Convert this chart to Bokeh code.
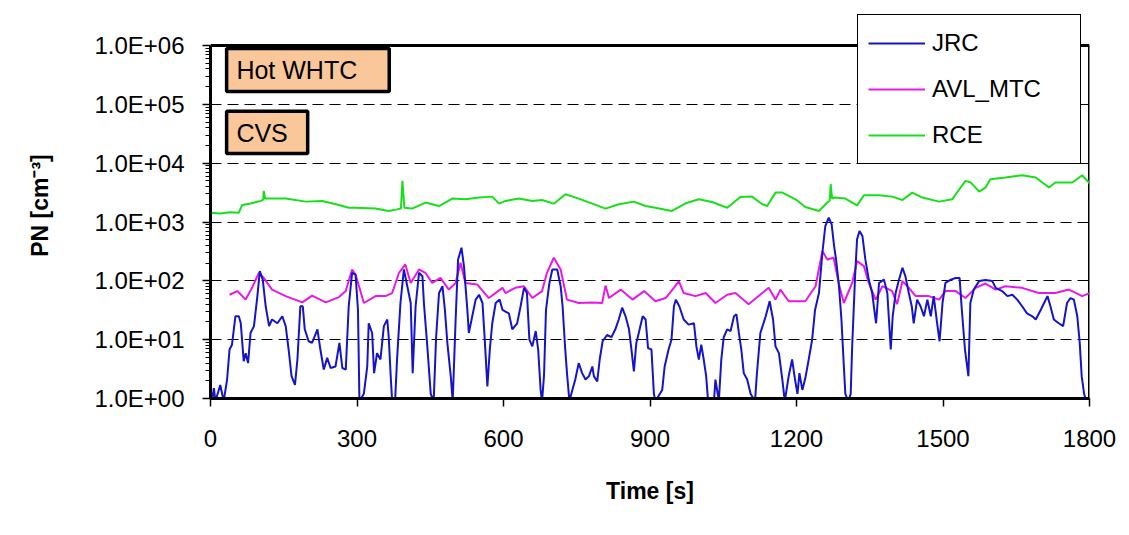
from bokeh.plotting import figure
from bokeh.models import (Range1d, FixedTicker, CustomJSTickFormatter, Legend,
                          LegendItem, BoxAnnotation, Label)
from bokeh.embed import file_html
from bokeh.resources import INLINE

# ---------------- data ----------------
x_ticks = [0, 300, 600, 900, 1200, 1500, 1800]
y_ticks = [1, 10, 100, 1000, 10000, 100000, 1000000]
series_names = ["JRC", "AVL_MTC", "RCE"]

rce_t = [0, 20, 40, 58, 65, 80, 103, 108, 109, 112, 154, 195, 229, 263, 283, 297, 338, 365,
         382, 390, 393, 397, 413, 440, 468, 495, 522, 550, 577, 591, 604, 631, 659, 679, 703,
         727, 754, 782, 809, 836, 867, 891, 911, 945, 973, 1000, 1027, 1058, 1085, 1109, 1130,
         1140, 1157, 1171, 1198, 1218, 1246, 1263, 1268, 1270, 1273, 1277, 1300, 1324, 1338,
         1369, 1396, 1417, 1437, 1458, 1492, 1519, 1526, 1546, 1557, 1574, 1587, 1597, 1628,
         1662, 1690, 1717, 1730, 1765, 1785, 1800]
rce_v = [1440, 1400, 1460, 1440, 1950, 2050, 2280, 2400, 3380, 2500, 2500, 2220, 2280, 1950,
         1750, 1750, 1690, 1540, 1640, 1700, 5000, 1750, 1690, 2140, 1870, 2500, 2430, 2600,
         2700, 2050, 2280, 2500, 2280, 2370, 2050, 2960, 2500, 2050, 1690, 2000, 2220, 1870,
         1750, 1540, 2080, 2430, 2190, 1750, 2670, 2700, 2000, 1870, 3160, 3160, 2430, 1800,
         1540, 2140, 2300, 4390, 2500, 2600, 2500, 1920, 2850, 2850, 2700, 2370, 3160, 2600,
         2220, 2430, 2960, 5000, 4680, 3290, 3850, 5340, 5700, 6240, 5700, 3850, 4680, 4680,
         6240, 4560]

avl_t = [39, 55, 72, 85, 99, 109, 126, 154, 188, 208, 236, 263, 277, 290, 297, 307, 314, 338,
         358, 372, 386, 399, 410, 427, 440, 454, 471, 488, 502, 512, 522, 546, 570, 598, 604,
         624, 642, 659, 679, 689, 703, 717, 730, 754, 782, 802, 809, 816, 840, 864, 888, 911,
         932, 949, 959, 969, 993, 1014, 1034, 1058, 1075, 1102, 1130, 1143, 1157, 1167, 1184,
         1218, 1239, 1253, 1263, 1276, 1287, 1297, 1314, 1324, 1338, 1348, 1362, 1376, 1396,
         1406, 1417, 1430, 1444, 1471, 1492, 1505, 1526, 1546, 1567, 1587, 1608, 1628, 1662,
         1696, 1730, 1758, 1785, 1800]
avl_v = [58, 67, 48, 76, 137, 112, 71, 55, 43, 56, 43, 53, 67, 156, 128, 67, 42, 55, 55, 62,
         137, 190, 92, 156, 137, 92, 112, 71, 92, 203, 92, 87, 51, 76, 62, 76, 81, 51, 67, 137,
         247, 156, 48, 42, 43, 42, 83, 51, 71, 48, 67, 45, 51, 76, 99, 62, 55, 62, 42, 58, 62,
         40, 62, 76, 48, 71, 45, 45, 81, 320, 231, 247, 87, 42, 92, 216, 178, 92, 48, 81, 67,
         40, 99, 76, 55, 55, 48, 67, 67, 51, 76, 90, 71, 81, 76, 62, 62, 71, 55, 62]

jrc_t = [0, 3, 7, 10, 20, 27, 34, 39, 44, 51, 58, 62, 68, 72, 77, 82, 89, 96, 101, 107, 113,
         120, 126, 137, 147, 154, 160, 166, 173, 178, 184, 189, 193, 201, 208, 219, 225, 232,
         239, 246, 256, 264, 270, 277, 283, 290, 297, 302, 305, 314, 321, 324, 331, 335, 341,
         348, 355, 362, 365, 369, 372, 378, 382, 389, 396, 403, 410, 414, 420, 427, 434, 437,
         444, 451, 457, 462, 468, 475, 480, 485, 492, 496, 502, 507, 514, 519, 526, 529, 536,
         543, 550, 557, 562, 567, 572, 577, 584, 592, 598, 604, 611, 618, 628, 635, 642, 648,
         653, 659, 666, 671, 676, 679, 683, 687, 694, 700, 710, 717, 721, 726, 730, 735, 741,
         747, 754, 761, 768, 775, 782, 785, 792, 797, 803, 812, 821, 829, 836, 843, 850, 857,
         862, 867, 872, 877, 885, 891, 896, 903, 908, 911, 925, 930, 938, 944, 949, 953, 960,
         969, 979, 990, 995, 1000, 1005, 1010, 1015, 1019, 1031, 1034, 1041, 1046, 1051, 1058,
         1065, 1072, 1077, 1082, 1087, 1092, 1099, 1106, 1115, 1119, 1126, 1137, 1145, 1152,
         1157, 1164, 1171, 1176, 1184, 1191, 1197, 1202, 1206, 1212, 1218, 1225, 1232, 1238,
         1246, 1253, 1259, 1266, 1272, 1277, 1281, 1287, 1292, 1297, 1300, 1306, 1311, 1314,
         1320, 1324, 1329, 1335, 1341, 1348, 1355, 1361, 1363, 1369, 1379, 1386, 1393, 1397,
         1403, 1410, 1417, 1423, 1430, 1436, 1440, 1447, 1454, 1461, 1468, 1475, 1481, 1488,
         1493, 1499, 1505, 1516, 1526, 1534, 1538, 1545, 1552, 1556, 1563, 1574, 1587, 1601,
         1608, 1621, 1632, 1642, 1652, 1662, 1672, 1683, 1690, 1700, 1707, 1714, 1720, 1727,
         1737, 1746, 1754, 1761, 1768, 1775, 1780, 1784, 1789, 1793, 1800]
jrc_v = [1.5, 0.9, 1.5, 0.9, 1.7, 0.9, 2.1, 6.8, 8.2, 25, 25, 19, 4.3, 5.9, 4.0, 13, 17, 55,
         146, 105, 37, 17, 22, 19, 25, 17, 6.8, 2.4, 1.7, 4.6, 37, 37, 15, 9.4, 8.8, 15, 6.8,
         3.1, 4.9, 3.3, 3.5, 8.8, 3.3, 3.1, 37, 137, 128, 32, 0.9, 1.2, 3.5, 19, 13, 2.7, 5.9,
         4.6, 17, 22, 11, 2.4, 0.9, 0.9, 4.6, 42, 156, 81, 42, 2.7, 37, 137, 120, 42, 7.7, 1.2,
         0.9, 11, 62, 81, 32, 8.8, 2.4, 0.9, 22, 231, 365, 178, 32, 13, 25, 48, 58, 42, 8.8,
         1.6, 6.8, 19, 42, 48, 32, 30, 28, 15, 19, 37, 76, 62, 10, 7.7, 14, 6.8, 1.4, 0.9, 2.5,
         32, 92, 156, 156, 81, 37, 7.7, 2.7, 0.9, 1.4, 2.1, 4.0, 2.7, 2.1, 2.4, 3.5, 2.4, 1.95,
         4.6, 9.4, 12, 11, 15, 22, 35, 25, 15, 6.8, 2.9, 8.8, 13, 25, 22, 7.2, 6.8, 1.2, 0.9,
         1.4, 3.5, 6.8, 10, 37, 48, 37, 22, 18, 19, 7.7, 4.6, 8.2, 4.6, 2.4, 0.9, 0.9, 2.1,
         0.9, 4.6, 11, 15, 14, 25, 27, 13, 6.8, 2.7, 2.1, 1.2, 0.9, 2.7, 13, 25, 45, 22, 7.7,
         5.9, 2.1, 0.9, 2.4, 4.6, 2.1, 1.2, 2.7, 1.4, 2.2, 4.6, 10, 32, 62, 300, 855, 1190, 910,
         390, 231, 81, 22, 3.5, 1.2, 0.9, 1.2, 7.7, 120, 507, 703, 577, 231, 105, 62, 25, 19,
         92, 105, 62, 6.8, 25, 62, 105, 167, 120, 62, 37, 19, 48, 37, 25, 48, 25, 55, 19, 9.4,
         42, 92, 105, 112, 112, 37, 6.8, 2.4, 42, 71, 99, 103, 99, 76, 67, 55, 58, 48, 37, 28,
         25, 22, 32, 42, 55, 37, 22, 19, 17, 42, 51, 48, 25, 8.8, 2.4, 1.2, 0.9, 0.9]

FONT = "Liberation Sans"
Y_MIN, Y_MAX = 1, 1e6          # axis extent
Y_TOP_ROOM = 10 ** 6.561        # headroom above the axis so the legend can poke out

p = figure(frame_width=879, frame_height=386, y_axis_type="log",
           x_range=Range1d(0, 1800), y_range=Range1d(Y_MIN, Y_TOP_ROOM),
           output_backend="svg", toolbar_location=None,
           min_border_left=210, min_border_right=40, min_border_top=12,
           min_border_bottom=137, background_fill_color="white",
           border_fill_color="white")

p.outline_line_color = None

# grid
p.xgrid.visible = False
p.ygrid.grid_line_color = "black"
p.ygrid.grid_line_dash = "11 6"
p.ygrid.grid_line_width = 1
p.ygrid.ticker = FixedTicker(ticks=y_ticks)

# y axis
minor = [m * d for d in y_ticks[:-1] for m in range(2, 10)]
p.yaxis.ticker = FixedTicker(ticks=y_ticks, minor_ticks=minor)
p.yaxis.bounds = (Y_MIN, Y_MAX)
p.yaxis.formatter = CustomJSTickFormatter(code="""
const e = Math.round(Math.log10(tick));
return "1.0E+" + (e < 10 ? "0" : "") + e;
""")
p.yaxis.axis_label = "PN [cm⁻³]"
p.yaxis.axis_label_text_font = FONT
p.yaxis.axis_label_text_font_style = "bold"
p.yaxis.axis_label_text_font_size = "23px"
p.yaxis.axis_label_text_color = "black"
p.yaxis.axis_label_standoff = 38
p.yaxis.major_label_text_font = FONT
p.yaxis.major_label_text_font_size = "24px"
p.yaxis.major_label_text_color = "black"
p.yaxis.major_label_standoff = 18
p.yaxis.axis_line_width = 3
p.yaxis.major_tick_out = 8
p.yaxis.major_tick_in = 0
p.yaxis.minor_tick_out = 5
p.yaxis.minor_tick_in = 0
p.yaxis.major_tick_line_width = 1.5

# x axis
p.xaxis.ticker = FixedTicker(ticks=x_ticks)
p.xaxis.axis_label = "Time [s]"
p.xaxis.axis_label_text_font = FONT
p.xaxis.axis_label_text_font_style = "bold"
p.xaxis.axis_label_text_font_size = "23px"
p.xaxis.axis_label_text_color = "black"
p.xaxis.axis_label_standoff = 28
p.xaxis.major_label_text_font = FONT
p.xaxis.major_label_text_font_size = "24px"
p.xaxis.major_label_text_color = "black"
p.xaxis.major_label_standoff = 23
p.xaxis.axis_line_width = 3
p.xaxis.major_tick_out = 8
p.xaxis.major_tick_in = 0
p.xaxis.minor_tick_out = 0
p.xaxis.minor_tick_in = 0
p.xaxis.major_tick_line_width = 1.5

# frame top and right borders (the plot box ends at 1.0E+06)
p.segment(x0=[0, 1800], y0=[Y_MAX, Y_MIN], x1=[1800, 1800], y1=[Y_MAX, Y_MAX],
          line_color="black", line_width=3)

# lines
r_rce = p.line(rce_t, rce_v, line_color="#18E018", line_width=2)
r_avl = p.line(avl_t, avl_v, line_color="#E818E8", line_width=2)
r_jrc = p.line(jrc_t, jrc_v, line_color="#1414CC", line_width=2)

# annotation boxes
for l, r, b, t in [(33, 366, 1.65e5, 8.9e5), (33, 199, 1.46e4, 7.6e4)]:
    p.add_layout(BoxAnnotation(left=l, right=r, bottom=b, top=t,
                               fill_color="#F9C79A", fill_alpha=1,
                               line_color="black", line_alpha=1, line_width=3.5,
                               level="overlay"))
p.add_layout(Label(x=53, y=3.8e5, text="Hot WHTC", text_font=FONT,
                   text_font_size="25px", text_baseline="middle",
                   text_color="black", level="overlay"))
p.add_layout(Label(x=53, y=3.3e4, text="CVS", text_font=FONT,
                   text_font_size="25px", text_baseline="middle",
                   text_color="black", level="overlay"))

legend = Legend(items=[LegendItem(label=series_names[0], renderers=[r_jrc]),
                       LegendItem(label=series_names[1], renderers=[r_avl]),
                       LegendItem(label=series_names[2], renderers=[r_rce])],
                location=(647, 234), orientation="vertical",
                label_text_font=FONT, label_text_font_size="24px",
                label_text_color="black",
                glyph_width=57, glyph_height=36, label_height=36,
                label_width=138, label_standoff=7, spacing=10, padding=10,
                margin=0, border_line_color="black", border_line_alpha=1,
                border_line_width=1.5,
                background_fill_color="white", background_fill_alpha=1)
p.add_layout(legend, "center")

open("out.html", "w").write(file_html(p, INLINE))
